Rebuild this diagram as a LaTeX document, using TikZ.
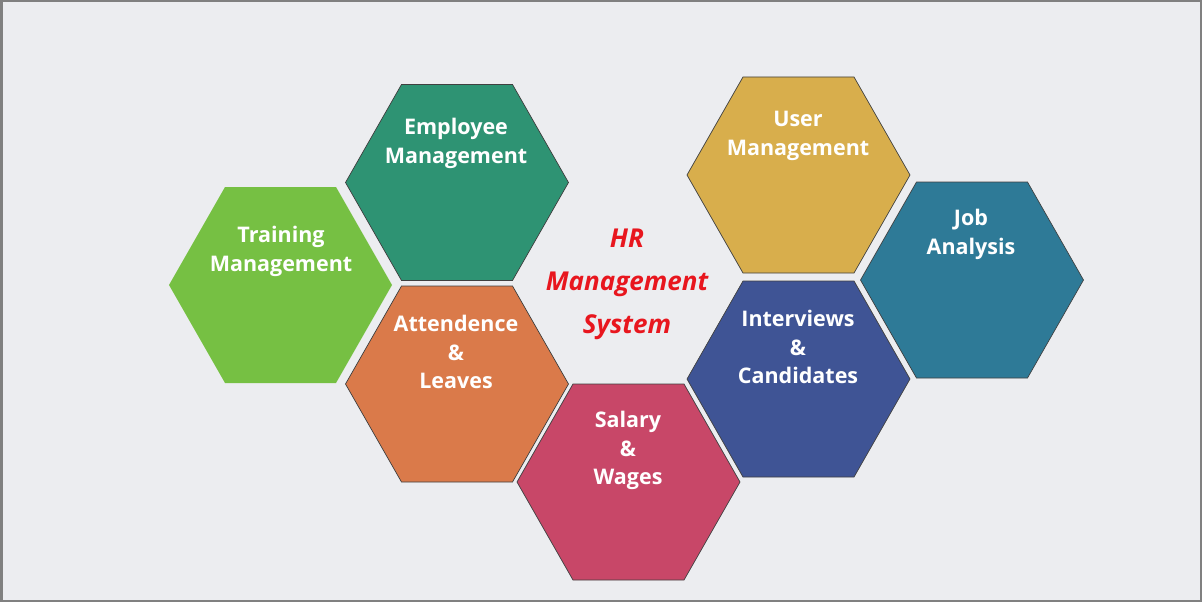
\documentclass[tikz,border=0pt]{standalone}
\usepackage{fontspec}
\newfontfamily\labfont{Open Sans}
\definecolor{bgc}{HTML}{ECEDF0}
\definecolor{framec}{HTML}{808080}
\definecolor{cTrain}{HTML}{76C043}
\definecolor{cEmp}{HTML}{2E9373}
\definecolor{cAtt}{HTML}{DA7A4A}
\definecolor{cSal}{HTML}{C84768}
\definecolor{cUser}{HTML}{D8AE4C}
\definecolor{cInt}{HTML}{3F5495}
\definecolor{cJob}{HTML}{2E7A97}
\definecolor{titlered}{HTML}{E8161E}
\newcommand\myhex[4][]{% options, name, center, colour
  \coordinate (#2) at #3;
  \path[hexshape,fill=#4,#1] (#2) ++(-111,0) -- ++(56,-98) -- ++(111,0) -- ++(56,98) -- ++(-56,98) -- ++(-111,0) -- cycle;
}
\begin{document}
\begin{tikzpicture}[x=1pt,y=-1pt,
  hexshape/.style={draw=black!75,line width=0.7pt,line join=miter},
  lab/.style={text=white,font=\labfont\bfseries\fontsize{21.5}{28.5}\selectfont,align=center,inner sep=0pt,anchor=north},
  title/.style={text=titlered,font=\labfont\bfseries\itshape\fontsize{26}{43}\selectfont,align=center,inner sep=0pt,anchor=north}]
\useasboundingbox (0,0) rectangle (1202,602);
\fill[bgc] (0,0) rectangle (1202,602);
\draw[framec,line width=2.5pt] (1.25,1.25) rectangle (1200.75,600.75);
\myhex[draw=none]{train}{(280,285)}{cTrain}
\myhex{emp}{(456.5,182.5)}{cEmp}
\myhex{att}{(456.5,384)}{cAtt}
\myhex{sal}{(628,482)}{cSal}
\myhex{user}{(798,175)}{cUser}
\myhex{int}{(798,379)}{cInt}
\myhex{job}{(971.5,280)}{cJob}
\node[lab] (trainlab) at (281,226) {Training\\Management};
\node[lab] (emplab) at (456,118) {Employee\\Management};
\node[lab] (attlab) at (456,315) {Attendence\\\&\\Leaves};
\node[lab] (sallab) at (628,411) {Salary\\\&\\Wages};
\node[lab] (userlab) at (798,111) {User\\Management};
\node[lab] (intlab) at (798,310) {Interviews\\\&\\Candidates};
\node[lab] (joblab) at (971,209) {Job\\Analysis};
\node[title] (hr) at (627,229) {HR\\Management\\System};
\end{tikzpicture}
\end{document}
